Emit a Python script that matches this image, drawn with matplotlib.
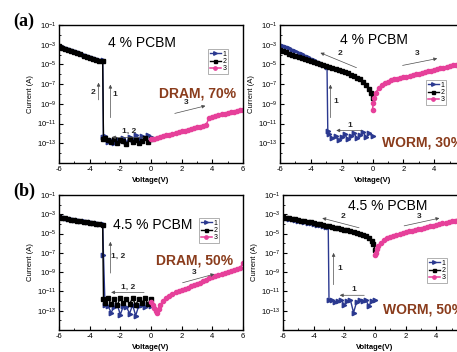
import numpy as np
import matplotlib.pyplot as plt
from matplotlib.ticker import FixedLocator, MultipleLocator, NullFormatter

plt.rcParams['font.family'] = ['Liberation Sans', 'DejaVu Sans']
plt.rcParams['mathtext.default'] = 'regular'
plt.rcParams['axes.unicode_minus'] = False

# ---- data: voltage (V) and log10(current / A) ----
V_LOW = [0.0, -0.2, -0.4, -0.6, -0.8, -1.0, -1.2, -1.4, -1.6, -1.8, -2.0, -2.2, -2.4, -2.6, -2.8, -3.0]
V_HIGH = [-3.4, -3.6, -3.8, -4.0, -4.2, -4.4, -4.6, -4.8, -5.0, -5.2, -5.4, -5.6, -5.8, -6.0]
V_HIGH_W = [-3.2] + V_HIGH
V_NEG = [0.0, -0.1, -0.2] + [-0.4, -0.6, -0.8, -1.0, -1.2, -1.4, -1.6, -1.8, -2.0, -2.2, -2.4, -2.6, -2.8, -3.0] + V_HIGH_W
V_POS = [0.0, 0.2, 0.4, 0.6, 0.8, 1.0, 1.2, 1.4, 1.6, 1.8, 2.0, 2.2, 2.4, 2.6, 2.8, 3.0,
         3.2, 3.4, 3.6, 3.8, 4.0, 4.2, 4.4, 4.6, 4.8, 5.0, 5.2, 5.4, 5.6, 5.8, 6.0]
V_POS_W = [0.0, 0.05, 0.1, 0.2] + V_POS[2:]

# (a) 4 % PCBM, DRAM
a_dram_v1 = V_LOW + [-3.1, -3.15] + V_HIGH
a_dram_i1 = [-12.4, -12.2, -12.5, -12.3, -12.6, -12.2, -12.7, -12.4, -12.9, -12.5, -12.8, -12.6, -13.0, -12.7, -12.9, -12.3,
             -12.4, -4.6,
             -4.55, -4.45, -4.33, -4.22, -4.1, -4.0, -3.88, -3.77, -3.65, -3.53, -3.42, -3.3, -3.2, -3.08]
a_dram_v2 = V_LOW + [-3.1, -3.15] + V_HIGH
a_dram_i2 = [-12.6, -12.9, -12.5, -12.8, -13.0, -12.7, -12.9, -12.6, -13.1, -12.8, -12.7, -13.0, -12.6, -12.9, -12.7, -12.5,
             -12.6, -4.7,
             -4.65, -4.55, -4.43, -4.32, -4.2, -4.1, -3.98, -3.87, -3.75, -3.63, -3.52, -3.4, -3.3, -3.18]
a_dram_v3 = V_POS
a_dram_i3 = [-12.6, -12.55, -12.5, -12.4, -12.3, -12.2, -12.15, -12.05, -12.0, -11.9, -11.8, -11.75, -11.65, -11.55,
             -11.45, -11.35, -11.3, -11.2, -11.1, -10.4, -10.3, -10.2, -10.15, -10.05, -10.0, -9.9, -9.85, -9.8,
             -9.75, -9.65, -9.6]

# (a) 4 % PCBM, WORM
a_worm_v1 = V_LOW[:-1] + [-2.9, -2.95] + V_HIGH_W
a_worm_i1 = [-12.3, -12.0, -12.4, -11.9, -12.2, -12.5, -12.0, -12.3, -12.6, -12.1, -12.4, -12.7, -12.3, -12.5, -12.1,
             -11.8, -5.25,
             -5.05, -4.9, -4.72, -4.56, -4.4, -4.25, -4.1, -3.95, -3.8, -3.65, -3.5, -3.36, -3.22, -3.1, -3.0]
a_worm_v2 = V_NEG
a_worm_i2 = [-8.4, -7.9, -7.5, -7.05, -6.75, -6.5, -6.35, -6.2, -6.05, -5.9, -5.78, -5.66, -5.55, -5.45, -5.35,
             -5.25, -5.15, -5.05, -4.95, -4.85, -4.75, -4.65, -4.55, -4.45, -4.35, -4.23, -4.12, -4.0, -3.9,
             -3.78, -3.65, -3.55]
a_worm_v3 = V_POS_W
a_worm_i3 = [-9.6, -8.9, -8.4, -7.9, -7.4, -7.1, -6.9, -6.75, -6.62, -6.52, -6.45, -6.37, -6.3, -6.23, -6.16,
             -6.08, -6.0, -5.93, -5.86, -5.78, -5.7, -5.62, -5.55, -5.47, -5.4, -5.32, -5.25, -5.17, -5.1,
             -5.02, -4.95, -4.87, -4.8]

# (b) 4.5 % PCBM, DRAM
b_dram_v1 = V_LOW + [-3.1, -3.15] + V_HIGH
b_dram_i1 = [-12.5, -12.3, -12.6, -12.4, -12.5, -13.5, -12.4, -13.3, -12.6, -12.5, -13.4, -12.4, -12.6, -13.2, -12.5, -12.4,
             -7.2, -4.05,
             -4.0, -3.95, -3.9, -3.85, -3.8, -3.74, -3.68, -3.62, -3.56, -3.5, -3.44, -3.38, -3.32, -3.26]
b_dram_v2 = V_LOW + [-3.1, -3.15] + V_HIGH
b_dram_i2 = [-11.8, -12.3, -11.7, -12.2, -11.8, -12.4, -11.7, -12.3, -11.8, -12.2, -11.7, -12.4, -11.8, -12.3, -11.7, -12.2,
             -11.8, -4.1,
             -4.05, -4.0, -3.95, -3.9, -3.85, -3.79, -3.73, -3.67, -3.61, -3.55, -3.49, -3.43, -3.37, -3.3]
b_dram_v3 = [0.0, 0.1, 0.2, 0.3, 0.4, 0.5, 0.6] + V_POS[4:]
b_dram_i3 = [-12.1, -12.4, -12.7, -13.0, -13.2, -12.8, -12.4,
             -12.0, -11.7, -11.5, -11.3, -11.1, -10.95, -10.8, -10.7, -10.6, -10.45, -10.35, -10.2, -10.1,
             -9.95, -9.8, -9.6, -9.5, -9.4, -9.3, -9.15, -9.05, -8.95, -8.85, -8.75, -8.65, -8.6, -8.0]

# (b) 4.5 % PCBM, WORM
b_worm_v1 = V_LOW + [-3.05] + V_HIGH_W
b_worm_i1 = [-11.9, -12.0, -12.5, -11.9, -12.0, -11.9, -12.1, -13.2, -11.9, -12.0, -12.4, -11.9, -12.0, -12.1, -11.9, -11.9,
             -4.3,
             -4.28, -4.2, -4.13, -4.06, -3.99, -3.92, -3.86, -3.8, -3.74, -3.68, -3.61, -3.54, -3.47, -3.4, -3.33]
b_worm_v2 = V_NEG
b_worm_i2 = [-6.7, -6.1, -5.8, -5.45, -5.25, -5.1, -5.0, -4.9, -4.82, -4.75, -4.67, -4.6, -4.53, -4.46, -4.39,
             -4.32, -4.25, -4.18, -4.11, -4.04, -3.97, -3.9, -3.83, -3.77, -3.71, -3.65, -3.59, -3.53, -3.47,
             -3.41, -3.35, -3.3]
b_worm_v3 = V_POS_W
b_worm_i3 = [-7.2, -7.0, -6.6, -6.3, -5.95, -5.7, -5.5, -5.35, -5.25, -5.15, -5.05, -4.95, -4.85, -4.78, -4.7,
             -4.62, -4.55, -4.48, -4.4, -4.32, -4.25, -4.18, -4.1, -4.03, -3.95, -3.88, -3.8, -3.73, -3.65,
             -3.58, -3.5, -3.45, -3.4]

NAVY = '#2b3990'
PINK = '#e6409a'
BROWN = '#8a3c1c'
W, H = 457, 352

fig = plt.figure(figsize=(W / 100, H / 100), dpi=100)


def px_axes(x0, y0, x1, y1):
    return fig.add_axes([x0 / W, 1 - y1 / H, (x1 - x0) / W, (y1 - y0) / H])


def setup(ax):
    ax.set_yscale('log')
    ax.set_xlim(-6, 6)
    ax.set_ylim(1e-15, 1e-1)
    exps = list(range(-13, 0, 2))
    ax.yaxis.set_major_locator(FixedLocator([10.0 ** k for k in exps]))
    ax.set_yticklabels([r'$10^{%d}$' % k for k in exps])
    ax.yaxis.set_minor_locator(FixedLocator([10.0 ** k for k in range(-14, -1, 2)]))
    ax.yaxis.set_minor_formatter(NullFormatter())
    ax.set_xticks([-6, -4, -2, 0, 2, 4, 6])
    ax.xaxis.set_minor_locator(MultipleLocator(1))
    ax.tick_params(which='both', direction='in', labelsize=5.5, pad=2)
    ax.tick_params(which='major', length=3, width=0.8)
    ax.tick_params(which='minor', length=1.5, width=0.6)
    for s in ax.spines.values():
        s.set_linewidth(1.0)
    ax.set_xlabel('Voltage(V)', fontsize=5.5, fontweight='bold', labelpad=3)
    ax.set_ylabel('Current (A)', fontsize=5.5, labelpad=2)


def curves(ax, v1, i1, v2, i2, v3, i3, legend_xy):
    ax.plot(v1, 10 ** np.array(i1), color=NAVY, marker='>', ms=3.2, lw=1.0, label='1')
    ax.plot(v2, 10 ** np.array(i2), color='black', marker='s', ms=2.7, lw=1.0, label='2')
    ax.plot(v3, 10 ** np.array(i3), color=PINK, marker='o', ms=3.0, lw=1.1, label='3')
    leg = ax.legend(loc='upper left', bbox_to_anchor=(legend_xy[0] / W, 1 - legend_xy[1] / H),
                    bbox_transform=fig.transFigure, fontsize=5, fancybox=False, edgecolor='0.55',
                    borderpad=0.25, handlelength=1.6, handletextpad=0.2, labelspacing=0.05,
                    borderaxespad=0, markerscale=0.8)
    leg.get_frame().set_linewidth(0.6)


def arrow(ax, tail, head, label=None, lpos=None):
    ax.annotate('', xy=(head[0], 10 ** head[1]), xytext=(tail[0], 10 ** tail[1]),
                arrowprops=dict(arrowstyle='-|>', lw=0.5, color='0.3', mutation_scale=5,
                                shrinkA=0, shrinkB=0))
    if label:
        ax.text(lpos[0], 10 ** lpos[1], label, fontsize=6, fontweight='bold',
                ha='center', va='center', color='0.15')


# (a) left: DRAM
ax = px_axes(59, 25, 243, 163)
setup(ax)
curves(ax, a_dram_v1, a_dram_i1, a_dram_v2, a_dram_i2, a_dram_v3, a_dram_i3, (208, 49))
ax.text(-0.6, 10 ** -2.8, '4 % PCBM', fontsize=10, ha='center', va='center')
ax.text(0.55, 10 ** -7.9, 'DRAM, 70%', fontsize=10, fontweight='bold', color=BROWN, va='center')
arrow(ax, (-3.42, -8.6), (-3.42, -6.85), '2', (-3.75, -7.85))
arrow(ax, (-2.65, -10.4), (-2.65, -7.05), '1', (-2.35, -8.0))
arrow(ax, (-0.5, -12.4), (-2.55, -12.4), '1, 2', (-1.45, -11.8))
arrow(ax, (1.55, -9.97), (3.55, -9.2), '3', (2.3, -8.85))

# (a) right: WORM
ax = px_axes(280, 25, 465, 163)
setup(ax)
curves(ax, a_worm_v1, a_worm_i1, a_worm_v2, a_worm_i2, a_worm_v3, a_worm_i3, (426, 80))
ax.text(0.1, 10 ** -2.5, '4 % PCBM', fontsize=10, ha='center', va='center')
ax.text(0.6, 10 ** -12.9, 'WORM, 30%', fontsize=10, fontweight='bold', color=BROWN, va='center')
arrow(ax, (-1.04, -5.33), (-3.38, -3.82), '2', (-2.1, -3.9))
arrow(ax, (1.95, -5.1), (4.2, -4.4), '3', (2.9, -3.9))
arrow(ax, (-2.73, -10.4), (-2.73, -7.05), '1', (-2.35, -8.8))
arrow(ax, (-0.7, -11.7), (-2.35, -11.7), '1', (-1.5, -11.15))

# (b) left: DRAM
ax = px_axes(59, 195, 243, 330)
setup(ax)
curves(ax, b_dram_v1, b_dram_i1, b_dram_v2, b_dram_i2, b_dram_v3, b_dram_i3, (199, 218))
ax.text(-2.5, 10 ** -4.1, '4.5 % PCBM', fontsize=10, va='center')
ax.text(0.3, 10 ** -7.8, 'DRAM, 50%', fontsize=10, fontweight='bold', color=BROWN, va='center')
arrow(ax, (-2.65, -9.1), (-2.65, -5.85), '1, 2', (-2.15, -7.4))
arrow(ax, (-0.45, -11.1), (-2.6, -11.1), '1, 2', (-1.5, -10.55))
arrow(ax, (2.06, -10.1), (4.13, -9.2), '3', (2.8, -9.0))

# (b) right: WORM
ax = px_axes(283, 195, 467, 330)
setup(ax)
curves(ax, b_worm_v1, b_worm_i1, b_worm_v2, b_worm_i2, b_worm_v3, b_worm_i3, (427, 258))
ax.text(-1.75, 10 ** -2.1, '4.5 % PCBM', fontsize=10, va='center')
ax.text(0.5, 10 ** -12.9, 'WORM, 50%', fontsize=10, fontweight='bold', color=BROWN, va='center')
arrow(ax, (-1.04, -4.4), (-3.44, -3.4), '2', (-2.1, -3.2))
arrow(ax, (1.9, -4.2), (4.2, -3.4), '3', (2.9, -3.2))
arrow(ax, (-2.7, -10.3), (-2.7, -7.0), '1', (-2.3, -8.65))
arrow(ax, (-0.7, -11.4), (-2.3, -11.4), '1', (-1.4, -10.8))

fig.text(13 / W, 1 - 21 / H, '(a)', family=['Liberation Serif', 'DejaVu Serif'], fontweight='bold',
         fontsize=13, va='center')
fig.text(13 / W, 1 - 191 / H, '(b)', family=['Liberation Serif', 'DejaVu Serif'], fontweight='bold',
         fontsize=13, va='center')

fig.savefig('out.png', dpi=100)
